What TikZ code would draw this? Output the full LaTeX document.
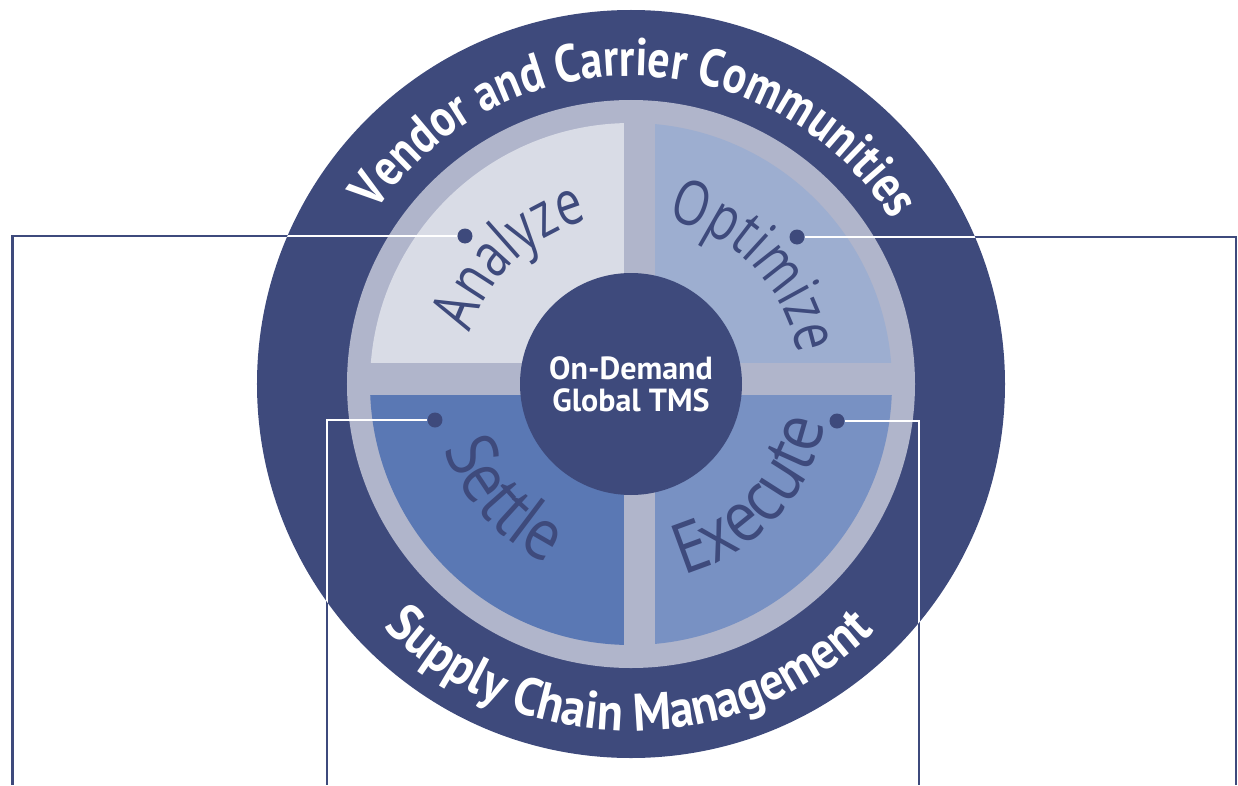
\documentclass[tikz,border=0pt]{standalone}
\usepackage{fontspec}
\setmainfont{PT Sans}
\newfontfamily\wheelfont{Open Sans}[FakeStretch=0.76]
\newfontfamily\wheelfontlow{Open Sans}[FakeStretch=0.86]
\newfontfamily\bandfont{PT Sans}[FakeStretch=0.83]
\newfontfamily\bandfontwide{PT Sans}[FakeStretch=0.9]
\usetikzlibrary{decorations.text}

\definecolor{tmsdark}{RGB}{62,74,124}
\definecolor{tmsring}{RGB}{176,181,203}
\definecolor{tmsanalyze}{RGB}{217,220,230}
\definecolor{tmsoptimize}{RGB}{157,174,208}
\definecolor{tmssettle}{RGB}{90,120,180}
\definecolor{tmsexecute}{RGB}{120,145,195}

\newcommand{\ringtext}{\bandfont\bfseries\fontsize{53}{56}\selectfont\color{white}}
\newcommand{\ringtextlow}{\bandfontwide\bfseries\fontsize{53}{56}\selectfont\color{white}}
\newcommand{\phasetext}{\wheelfont\fontsize{62}{64}\selectfont\color{tmsdark}}
\newcommand{\phasetextlow}{\wheelfontlow\fontsize{70}{72}\selectfont\color{tmsdark}}

\tikzset{
	pindot/.style={circle,fill=tmsdark,inner sep=0pt,minimum size=15pt},
	leader/.style={draw=tmsdark,line width=2.6pt},
	inleader/.style={draw=white,line width=2pt},
	curved/.style={decorate,decoration={text along path,text align=center,text={#1}}},
}

\begin{document}
\begin{tikzpicture}[x=1pt,y=1pt]
		\useasboundingbox (-631,-401) rectangle (607,384);
		%
		\fill[tmsdark] (0,0) circle (374);
		\fill[tmsring] (0,0) circle (284);
		\begin{scope}
			\clip (0,0) circle (261);
			\fill[tmsanalyze] (-270,21) rectangle (-7,270);
			\fill[tmsoptimize] (24,21) rectangle (270,270);
			\fill[tmssettle] (-270,-11) rectangle (-7,-270);
			\fill[tmsexecute] (24,-11) rectangle (270,-270);
		\end{scope}
		%
		\node[circle,fill=tmsdark,minimum size=222pt,inner sep=0pt,align=center,text=white,
			font=\bfseries\fontsize{32}{32}\selectfont] (hub) at (0,0) {On-Demand\\Global TMS};
		%
		\path[curved={|\ringtext|Vendor and Carrier Communities}]
			(169:308) arc[start angle=169,end angle=9,radius=308];
		\path[curved={|\ringtextlow|Supply Chain Management}]
			(199.5:347) arc[start angle=199.5,end angle=339.5,radius=347];
		%
		\path[curved={|\phasetext|Analyze}]
			(193.6:169) arc[start angle=193.6,end angle=73.6,radius=169];
		\path[curved={|\phasetext|Optimize}]
			(103.9:169) arc[start angle=103.9,end angle=-16.1,radius=169];
		\path[curved={|\phasetextlow|Settle}]
			(172:198) arc[start angle=172,end angle=272,radius=198];
		\path[curved={|\phasetextlow|Execute}]
			(267:198) arc[start angle=267,end angle=367,radius=198];
		%
		\node[pindot] (anadot) at (-166,148) {};
		\node[pindot] (optdot) at (166,147) {};
		\node[pindot] (setdot) at (-196,-36) {};
		\node[pindot] (exedot) at (206,-37) {};
		%
		\coordinate (anabend) at (-618.5,148);  \coordinate (anafoot) at (-618.5,-401);
		\coordinate (optbend) at (605,147);     \coordinate (optfoot) at (605,-401);
		\coordinate (setbend) at (-304,-36);    \coordinate (setfoot) at (-304,-401);
		\coordinate (exebend) at (288,-37);     \coordinate (exefoot) at (288,-401);
		%
		\draw[leader] (anadot) -- (anabend) -- (anafoot);
		\draw[leader] (optdot) -- (optbend) -- (optfoot);
		\draw[leader] (setdot) -- (setbend) -- (setfoot);
		\draw[leader] (exedot) -- (exebend) -- (exefoot);
		\begin{scope}
			\clip (0,0) circle (374);
			\draw[inleader] (anadot) -- (anabend) -- (anafoot);
			\draw[inleader] (optdot) -- (optbend) -- (optfoot);
			\draw[inleader] (setdot) -- (setbend) -- (setfoot);
			\draw[inleader] (exedot) -- (exebend) -- (exefoot);
		\end{scope}
		%
\end{tikzpicture}
\end{document}
